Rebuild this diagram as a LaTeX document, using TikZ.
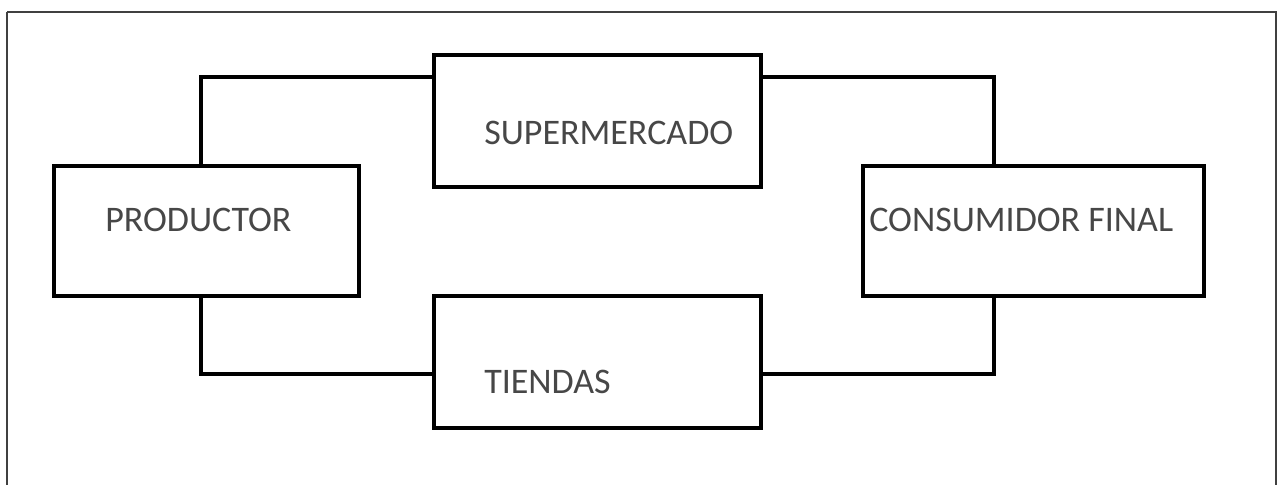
\documentclass[tikz,border=0pt]{standalone}
\usepackage{fontspec}
\setmainfont{Carlito}
\usetikzlibrary{positioning}

\tikzset{
  caja/.style={draw=black, line width=2.4pt, rectangle, inner sep=0pt, outer sep=0pt},
  linea/.style={draw=black, line width=2.4pt},
  etiqueta/.style={anchor=base west, inner sep=0pt, text=black!72, font=\fontsize{25.6}{30}\selectfont}
}

\begin{document}
\begin{tikzpicture}
  \begin{scope}[x=0.025cm, y=-0.025cm]
	\clip (0,0) rectangle (1278,485);
	\draw[line width=1.3pt, black!75] (7,12) -- (1276,12) -- (1276,500);
	\draw[line width=1.3pt, black!75] (7,12) -- (7,500);
	\node[caja, minimum width=7.625cm, minimum height=3.25cm] (prod) at (206.5,231) {};
	\node[caja, minimum width=8.175cm, minimum height=3.3cm] (super) at (597.5,121) {};
	\node[caja, minimum width=8.175cm, minimum height=3.3cm] (tiendas) at (597.5,362) {};
	\node[caja, minimum width=8.525cm, minimum height=3.25cm] (cons) at (1033.5,231) {};
	\node[etiqueta] (tprod) at (105,232) {PRODUCTOR};
	\node[etiqueta] (tsuper) at (484,145) {SUPERMERCADO};
	\node[etiqueta] (ttiendas) at (484,393) {TIENDAS};
	\node[etiqueta] (tcons) at (869,232) {CONSUMIDOR FINAL};
	\coordinate (arr) at (0,77);
	\coordinate (abj) at (0,374);
	\coordinate (izq) at (201,0);
	\coordinate (der) at (994,0);
	\draw[linea] (prod.north -| izq) |- (super.west |- arr);
	\draw[linea] (super.east |- arr) -| (cons.north -| der);
	\draw[linea] (prod.south -| izq) |- (tiendas.west |- abj);
	\draw[linea] (tiendas.east |- abj) -| (cons.south -| der);
  \end{scope}
\end{tikzpicture}
\end{document}
